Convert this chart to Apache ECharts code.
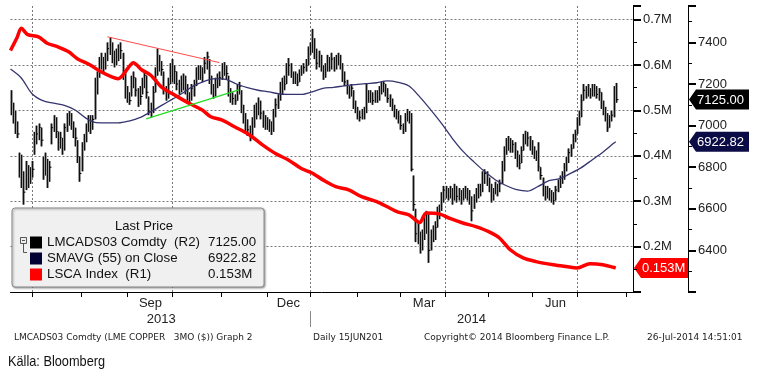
<!DOCTYPE html>
<html>
<head>
<meta charset="utf-8">
<script src="https://cdn.jsdelivr.net/npm/echarts@6.0.0/dist/echarts.min.js"></script>
<style>
html, body { margin: 0; padding: 0; background: #fff; }
#copperChart { width: 758px; height: 377px; }
</style>
</head>
<body>
<div id="copperChart"></div>
<script>
// LME trading days (weekdays minus UK/LME holidays)
const holidays = ['2013-08-26', '2013-12-25', '2013-12-26', '2014-01-01', '2014-04-18', '2014-04-21', '2014-05-05', '2014-05-26'];
const monthLabels = { '2013-09': 'Sep', '2013-12': 'Dec', '2014-03': 'Mar', '2014-06': 'Jun' };

// LMCADS03 daily close / high / low, 17 Jun 2013 - 25 Jul 2014
const closes = [
  7080, 7060, 7010, 6960, 6800, 6720, 6680, 6760, 6740, 6770,
  6790, 6920, 6960, 6990, 6930, 6780, 6830, 6760, 6800, 6990,
  7030, 6970, 6920, 6940, 6890, 6990, 7040, 7050, 7010, 6970,
  6940, 6850, 6770, 6900, 6940, 6990, 7030, 7000, 7030, 7200,
  7240, 7300, 7320, 7280, 7330, 7370, 7390, 7340, 7300, 7330,
  7360, 7360, 7250, 7160, 7140, 7120, 7210, 7230, 7170, 7110,
  7140, 7200, 7240, 7160, 7070, 7080, 7160, 7220, 7330, 7290,
  7270, 7170, 7140, 7200, 7270, 7240, 7260, 7200, 7170, 7200,
  7220, 7180, 7130, 7130, 7180, 7200, 7250, 7270, 7240, 7260,
  7300, 7330, 7230, 7180, 7150, 7200, 7220, 7230, 7280, 7270,
  7250, 7160, 7140, 7130, 7120, 7170, 7190, 7090, 7040, 7000,
  6980, 6960, 7010, 7070, 7090, 7110, 7060, 7010, 7020, 7000,
  6990, 6980, 7060, 7100, 7140, 7180, 7210, 7200, 7270, 7290,
  7250, 7220, 7230, 7210, 7250, 7270, 7280, 7290, 7360, 7380,
  7400, 7350, 7300, 7330, 7280, 7250, 7270, 7310, 7280, 7320,
  7280, 7310, 7330, 7290, 7240, 7210, 7170, 7160, 7180, 7100,
  7080, 7050, 7040, 7050, 7070, 7160, 7130, 7150, 7120, 7150,
  7140, 7170, 7190, 7200, 7170, 7130, 7120, 7090, 7060, 7050,
  7040, 7000, 6980, 7040, 7060, 7030, 6790, 6620, 6480, 6470,
  6430, 6460, 6530, 6560, 6400, 6460, 6490, 6510, 6580, 6600,
  6650, 6690, 6680, 6660, 6690, 6650, 6700, 6660, 6670, 6650,
  6670, 6690, 6680, 6650, 6590, 6640, 6680, 6700, 6690, 6750,
  6770, 6740, 6700, 6660, 6680, 6710, 6690, 6720, 6800, 6880,
  6910, 6930, 6890, 6910, 6860, 6830, 6820, 6880, 6940, 6950,
  6940, 6910, 6890, 6870, 6850, 6800, 6760, 6690, 6670, 6680,
  6660, 6650, 6640, 6690, 6720, 6740, 6750, 6800, 6830, 6870,
  6890, 6930, 6960, 7010, 7050, 7120, 7170, 7150, 7170, 7150,
  7170, 7180, 7150, 7160, 7110, 7080, 7050, 6990, 7030, 7050,
  7150, 7125
];
const highs = [
  7170, 7110, 7070, 7020, 6870, 6860, 6780, 6830, 6810, 6800,
  6830, 6970, 7000, 7010, 6990, 6850, 6870, 6840, 6830, 7010,
  7050, 7040, 6970, 6970, 6940, 7010, 7060, 7070, 7060, 7020,
  6990, 6930, 6850, 6920, 6960, 7010, 7050, 7050, 7050, 7230,
  7260, 7330, 7350, 7330, 7350, 7400, 7425, 7400, 7360, 7370,
  7390, 7400, 7350, 7270, 7190, 7160, 7240, 7260, 7230, 7180,
  7190, 7230, 7260, 7240, 7140, 7110, 7190, 7280, 7370, 7340,
  7310, 7260, 7190, 7230, 7300, 7320, 7290, 7260, 7220, 7240,
  7250, 7240, 7200, 7160, 7200, 7220, 7280, 7290, 7290, 7280,
  7330, 7355, 7320, 7240, 7200, 7230, 7250, 7260, 7300, 7305,
  7290, 7240, 7180, 7160, 7150, 7200, 7210, 7170, 7100, 7060,
  7030, 7000, 7040, 7100, 7110, 7135, 7120, 7070, 7050, 7040,
  7030, 7020, 7080, 7130, 7150, 7210, 7230, 7240, 7300, 7325,
  7300, 7260, 7260, 7250, 7270, 7290, 7300, 7320, 7380, 7400,
  7465, 7420, 7370, 7360, 7340, 7290, 7300, 7340, 7330, 7350,
  7330, 7340, 7350, 7340, 7300, 7260, 7220, 7190, 7200, 7170,
  7120, 7090, 7070, 7080, 7090, 7200, 7170, 7170, 7160, 7170,
  7170, 7190, 7210, 7215, 7200, 7180, 7150, 7130, 7100, 7080,
  7070, 7050, 7010, 7060, 7080, 7070, 7060, 6760, 6600, 6540,
  6490, 6500, 6560, 6590, 6580, 6500, 6520, 6540, 6610, 6620,
  6680, 6710, 6710, 6700, 6710, 6700, 6720, 6710, 6700, 6690,
  6700, 6710, 6700, 6690, 6660, 6670, 6700, 6720, 6720, 6780,
  6790, 6780, 6750, 6720, 6700, 6730, 6720, 6740, 6830, 6900,
  6940, 6950, 6940, 6930, 6920, 6880, 6860, 6900, 6960, 6975,
  6970, 6950, 6930, 6900, 6880, 6920, 6800, 6750, 6710, 6710,
  6700, 6690, 6680, 6710, 6740, 6760, 6780, 6820, 6850, 6890,
  6910, 6960, 6980, 7040, 7070, 7150, 7200, 7190, 7200, 7180,
  7200, 7200, 7190, 7180, 7160, 7120, 7090, 7060, 7050, 7070,
  7190, 7205
];
const lows = [
  7050, 7010, 6960, 6940, 6750, 6700, 6620, 6690, 6700, 6720,
  6750, 6860, 6910, 6930, 6900, 6740, 6760, 6700, 6730, 6910,
  6970, 6940, 6880, 6890, 6860, 6880, 6970, 7000, 6980, 6940,
  6900, 6820, 6730, 6780, 6880, 6920, 6970, 6960, 6980, 7030,
  7150, 7230, 7270, 7250, 7270, 7310, 7340, 7300, 7280, 7290,
  7310, 7320, 7220, 7130, 7110, 7100, 7140, 7180, 7140, 7090,
  7100, 7150, 7180, 7130, 7050, 7040, 7060, 7160, 7240, 7260,
  7240, 7150, 7120, 7130, 7200, 7210, 7200, 7170, 7150, 7160,
  7170, 7150, 7120, 7110, 7120, 7140, 7190, 7220, 7220, 7210,
  7250, 7270, 7200, 7150, 7130, 7140, 7180, 7190, 7220, 7240,
  7220, 7140, 7110, 7100, 7100, 7120, 7150, 7060, 7010, 6970,
  6950, 6925, 6950, 6990, 7030, 7050, 7030, 6990, 6980, 6980,
  6970, 6955, 6970, 7040, 7080, 7120, 7150, 7170, 7200, 7240,
  7230, 7200, 7200, 7190, 7210, 7240, 7250, 7260, 7290, 7340,
  7350, 7320, 7270, 7280, 7260, 7220, 7230, 7260, 7260, 7270,
  7260, 7270, 7290, 7270, 7210, 7190, 7150, 7130, 7140, 7080,
  7060, 7030, 7020, 7030, 7030, 7060, 7110, 7110, 7100, 7110,
  7110, 7120, 7150, 7160, 7140, 7110, 7090, 7070, 7040, 7030,
  7010, 6980, 6960, 6970, 7020, 7010, 6780, 6590, 6440, 6430,
  6385, 6400, 6450, 6480, 6340, 6400, 6440, 6450, 6510, 6550,
  6590, 6630, 6650, 6640, 6650, 6620, 6640, 6630, 6640, 6620,
  6640, 6650, 6640, 6620, 6540, 6600, 6630, 6650, 6660, 6680,
  6720, 6710, 6680, 6630, 6640, 6670, 6660, 6680, 6720, 6780,
  6860, 6880, 6870, 6870, 6840, 6800, 6790, 6820, 6880, 6910,
  6900, 6880, 6860, 6840, 6830, 6780, 6740, 6660, 6640, 6650,
  6640, 6630, 6620, 6640, 6680, 6700, 6720, 6740, 6780, 6820,
  6850, 6890, 6920, 6960, 7000, 7040, 7120, 7130, 7140, 7130,
  7140, 7140, 7130, 7120, 7080, 7050, 7020, 6970, 6990, 7020,
  7040, 7110
];

// SMAVG(55), read at [trading day no., value]
const smaPoints = [
  [0, 7272], [5, 7229], [10, 7153], [15, 7120], [20, 7108], [25, 7097], [30, 7075], [35, 7036],
  [40, 7014], [45, 7013], [50, 7013], [55, 7022], [60, 7038], [65, 7066], [70, 7096], [75, 7126],
  [80, 7157], [85, 7191], [90, 7213], [95, 7226], [100, 7222], [105, 7200], [110, 7182], [115, 7170],
  [120, 7162], [125, 7152], [130, 7150], [135, 7150], [140, 7162], [145, 7179], [150, 7184], [155, 7191],
  [160, 7197], [165, 7202], [170, 7206], [175, 7215], [180, 7208], [185, 7190], [190, 7138], [195, 7077],
  [200, 7012], [205, 6940], [210, 6877], [215, 6827], [220, 6780], [225, 6740], [230, 6712], [235, 6692],
  [240, 6685], [245, 6708], [250, 6735], [255, 6745], [260, 6770], [265, 6798], [270, 6835], [275, 6872],
  [280, 6915], [281, 6922.82]
];

// LSCA Index (LME copper stocks, million t)
const lscaPoints = [
  [0, 0.632], [3, 0.660], [5, 0.681], [8, 0.667], [13, 0.662], [17, 0.648], [22, 0.640], [27, 0.629],
  [31, 0.614], [37, 0.600], [42, 0.585], [47, 0.574], [50, 0.570], [55, 0.596], [57, 0.605], [61, 0.589],
  [65, 0.578], [70, 0.552], [75, 0.537], [79, 0.526], [84, 0.513], [89, 0.501], [93, 0.486], [98, 0.479],
  [104, 0.464], [111, 0.446], [117, 0.424], [123, 0.405], [129, 0.391], [135, 0.372], [140, 0.362], [145, 0.347],
  [151, 0.332], [157, 0.325], [163, 0.310], [170, 0.299], [176, 0.285], [180, 0.276], [185, 0.270], [190, 0.253],
  [193, 0.274], [199, 0.272], [204, 0.262], [210, 0.252], [216, 0.244], [222, 0.233], [227, 0.219], [232, 0.193],
  [238, 0.175], [244, 0.167], [252, 0.160], [258, 0.156], [263, 0.153], [269, 0.162], [275, 0.160], [281, 0.153]
];

// hand drawn trend lines
const upperTrend = [[45, 7427], [97, 7303]];
const lowerTrend = [[63, 7032], [106, 7172]];

const seriesNames = ['LMCADS03 Comdty  (R2)', 'SMAVG (55) on Close', 'LSCA Index  (R1)'];
const lastValues = { 'LMCADS03 Comdty  (R2)': '7125.00', 'SMAVG (55) on Close': '6922.82', 'LSCA Index  (R1)': '0.153M' };
const lastPrice = 7125.00;
const lastSma = 6922.82;
const lastLsca = 0.153;

// build the trading day categories
const days = [];
for (let t = Date.UTC(2013, 5, 17); t <= Date.UTC(2014, 7, 6); t += 86400000) {
  const d = new Date(t);
  const s = d.toISOString().slice(0, 10);
  if (d.getUTCDay() === 0 || d.getUTCDay() === 6 || holidays.includes(s)) continue;
  days.push(s);
}

const monthStarts = [];
days.forEach((d, i) => { if (i > 0 && d.slice(0, 7) !== days[i - 1].slice(0, 7)) monthStarts.push(i); });
const quarterStarts = monthStarts.filter(i => ['01', '04', '07', '10'].includes(days[i].slice(5, 7)));
const labelAt = {};
monthStarts.forEach((s, k) => {
  const name = monthLabels[days[s].slice(0, 7)];
  const e = k + 1 < monthStarts.length ? monthStarts[k + 1] : days.length - 1;
  if (name) labelAt[Math.round((s + e) / 2)] = name;
});
const yearStart = days.findIndex(d => d.startsWith('2014'));
const mid13 = Math.round(yearStart / 2);
const mid14 = Math.round((yearStart + days.length - 1) / 2);

const priceRows = closes.map((c, i) => [i, highs[i], lows[i], c]);

const axisFont = 'Liberation Sans';
const dotted = { color: '#777', width: 1, type: [2, 2] };

const chartCopper = echarts.init(document.getElementById('copperChart'));

const footerEls = [
  { type: 'text', x: 14, y: 338, style: { text: 'LMCADS03 Comdty (LME COPPER   3MO ($)) Graph 2', font: '9px "DejaVu Sans"', fill: '#222', verticalAlign: 'middle' } },
  { type: 'text', x: 313, y: 338, style: { text: 'Daily 15JUN201', font: '9px "DejaVu Sans"', fill: '#222', verticalAlign: 'middle' } },
  { type: 'text', x: 424, y: 338, style: { text: 'Copyright\u00a9 2014 Bloomberg Finance L.P.', font: '9px "DejaVu Sans"', fill: '#222', verticalAlign: 'middle' } },
  { type: 'text', x: 647, y: 338, style: { text: '26-Jul-2014 14:51:01', font: '9px "DejaVu Sans"', fill: '#222', verticalAlign: 'middle' } },
  { type: 'text', x: 8, y: 362, scaleX: 0.85, style: { text: 'Källa: Bloomberg', font: '15px "Liberation Sans"', fill: '#111', verticalAlign: 'middle' } },
  { type: 'text', x: 144, y: 226, z: 10, style: { text: 'Last Price', font: '13px ' + axisFont, fill: '#111', align: 'center', verticalAlign: 'middle' } },
  { type: 'rect', z: 10, shape: { x: 20.5, y: 237.5, width: 6, height: 6 }, style: { fill: '#eee', stroke: '#555', lineWidth: 1 } },
  { type: 'line', z: 10, shape: { x1: 22, y1: 240.5, x2: 25, y2: 240.5 }, style: { stroke: '#555', lineWidth: 1 } },
  { type: 'polyline', z: 10, shape: { points: [[23.5, 243.5], [23.5, 252.5], [27, 252.5]] }, style: { stroke: '#555', fill: null, lineWidth: 1 } }
];

const option = {
  animation: false,
  backgroundColor: '#fff',
  textStyle: { fontFamily: axisFont },
  grid: { left: 10.5, right: 125, top: 6, bottom: 85 },
  legend: {
    orient: 'vertical',
    left: 12,
    top: 208,
    padding: [28, 8, 6, 18],
    itemWidth: 12,
    itemHeight: 12,
    itemGap: 3,
    icon: 'rect',
    backgroundColor: '#f0f0f0',
    borderColor: '#8a8a8a',
    borderWidth: 1,
    borderRadius: 3,
    shadowColor: 'rgba(0,0,0,0.35)',
    shadowBlur: 2,
    shadowOffsetX: 1,
    shadowOffsetY: 1,
    selectedMode: false,
    data: [
      { name: seriesNames[0], itemStyle: { color: '#000' } },
      { name: seriesNames[1], itemStyle: { color: '#000033' } },
      { name: seriesNames[2], itemStyle: { color: '#ff0000' } }
    ],
    formatter: name => '{n|' + name + '}{v|' + lastValues[name] + '}',
    textStyle: {
      rich: {
        n: { width: 161, fontSize: 13.3, lineHeight: 14, fontFamily: axisFont, color: '#111' },
        v: { fontSize: 13.3, lineHeight: 14, fontFamily: axisFont, color: '#111' }
      }
    }
  },
  xAxis: [
    {
      type: 'category',
      data: days,
      boundaryGap: false,
      axisLine: { lineStyle: { color: '#000', width: 1 } },
      axisTick: { interval: i => monthStarts.includes(i), length: 5, lineStyle: { color: '#000' } },
      axisLabel: { interval: i => labelAt[i] !== undefined, formatter: (v, i) => labelAt[i] || '', margin: 5, color: '#222', fontSize: 13, fontFamily: axisFont },
      splitLine: { show: true, interval: i => quarterStarts.includes(i), lineStyle: dotted }
    },
    {
      type: 'category',
      data: days,
      boundaryGap: false,
      position: 'bottom',
      offset: 19,
      axisLine: { show: false },
      axisTick: { interval: i => i === yearStart, length: 16, lineStyle: { color: '#888' } },
      axisLabel: { interval: i => i === mid13 || i === mid14, formatter: v => v.slice(0, 4), margin: 2, color: '#222', fontSize: 13, fontFamily: axisFont },
      splitLine: { show: false }
    }
  ],
  yAxis: [
    {
      type: 'value',
      position: 'right',
      min: 0.1,
      max: 0.73,
      interval: 0.1,
      axisLine: { show: true, lineStyle: { color: '#000' } },
      axisTick: { show: true, length: 8, lineStyle: { color: '#000', width: 2 } },
      minorTick: { show: true, splitNumber: 2, length: 4, lineStyle: { color: '#000' } },
      axisLabel: {
        margin: 10, color: '#222', fontSize: 13, fontFamily: axisFont,
        formatter: v => { const k = Math.round(v * 100); return (k % 10 === 0 && k >= 20 && k <= 70) ? (k / 100).toFixed(1) + 'M' : ''; }
      },
      splitLine: { show: true, showMinLine: false, showMaxLine: false, lineStyle: dotted }
    },
    {
      type: 'value',
      position: 'right',
      offset: 55,
      min: 6200,
      max: 7575,
      interval: 200,
      axisLine: { show: true, lineStyle: { color: '#000' } },
      axisTick: { show: true, length: 8, lineStyle: { color: '#000', width: 2 } },
      minorTick: { show: true, splitNumber: 2, length: 4, lineStyle: { color: '#000' } },
      axisLabel: {
        margin: 10, color: '#222', fontSize: 13, fontFamily: axisFont,
        formatter: v => (v >= 6400 && v <= 7400 && v % 200 === 0) ? String(v) : ''
      },
      splitLine: { show: false }
    }
  ],
  series: [
    {
      name: seriesNames[0],
      type: 'custom',
      yAxisIndex: 1,
      data: priceRows,
      z: 2,
      itemStyle: { color: '#000' },
      renderItem: (params, api) => {
        const i = api.value(0);
        const top = api.coord([i, api.value(1)]);
        const bot = api.coord([i, api.value(2)]);
        const cl = api.coord([i, api.value(3)]);
        const x = Math.round(top[0]) + 0.5;
        return {
          type: 'group',
          children: [
            { type: 'rect', shape: { x: x - 1.5, y: top[1], width: 3, height: bot[1] - top[1] }, style: { fill: '#9a9a9a' } },
            { type: 'line', shape: { x1: x, y1: top[1], x2: x, y2: bot[1] }, style: { stroke: '#111', lineWidth: 1 } },
            { type: 'line', shape: { x1: x, y1: cl[1], x2: x + 2, y2: cl[1] }, style: { stroke: '#000', lineWidth: 1 } }
          ]
        };
      }
    },
    {
      name: seriesNames[1],
      type: 'line',
      yAxisIndex: 1,
      data: smaPoints,
      showSymbol: false,
      smooth: 0.3,
      z: 3,
      itemStyle: { color: '#000033' },
      lineStyle: { color: '#34346e', width: 1.3 }
    },
    {
      name: seriesNames[2],
      type: 'line',
      yAxisIndex: 0,
      data: lscaPoints,
      showSymbol: false,
      smooth: 0.3,
      z: 4,
      itemStyle: { color: '#ff0000' },
      lineStyle: { color: '#ff0000', width: 3.5 }
    },
    {
      type: 'line',
      yAxisIndex: 1,
      data: upperTrend,
      showSymbol: false,
      silent: true,
      z: 5,
      lineStyle: { color: '#ff4a4a', width: 1 }
    },
    {
      type: 'line',
      yAxisIndex: 1,
      data: lowerTrend,
      showSymbol: false,
      silent: true,
      z: 5,
      lineStyle: { color: '#22dd22', width: 1.2 }
    }
  ],
  graphic: { elements: footerEls }
};

chartCopper.setOption(option);

// last value tags on the right axes, placed through the axis scales
function valueTag(axisX, y, width, fill, text) {
  return {
    type: 'group',
    z: 20,
    children: [
      { type: 'polygon', shape: { points: [[axisX + 1, y], [axisX + 8, y - 10], [axisX + width, y - 10], [axisX + width, y + 10], [axisX + 8, y + 10]] }, style: { fill: fill } },
      { type: 'text', x: axisX + 9, y: y + 0.5, style: { text: text, fill: '#fff', font: '13px ' + axisFont, verticalAlign: 'middle' } }
    ]
  };
}

const r1X = chartCopper.convertToPixel({ xAxisIndex: 0 }, days.length - 1);
const r2X = r1X + 55;
const tagEls = [
  valueTag(r2X, chartCopper.convertToPixel({ yAxisIndex: 1 }, lastPrice), 61, '#000', '7125.00'),
  valueTag(r2X, chartCopper.convertToPixel({ yAxisIndex: 1 }, lastSma), 61, '#0b0b45', '6922.82'),
  valueTag(r1X, chartCopper.convertToPixel({ yAxisIndex: 0 }, lastLsca), 55, '#ff0000', '0.153M')
];
chartCopper.setOption({ graphic: { elements: footerEls.concat(tagEls) } });
</script>
</body>
</html>
